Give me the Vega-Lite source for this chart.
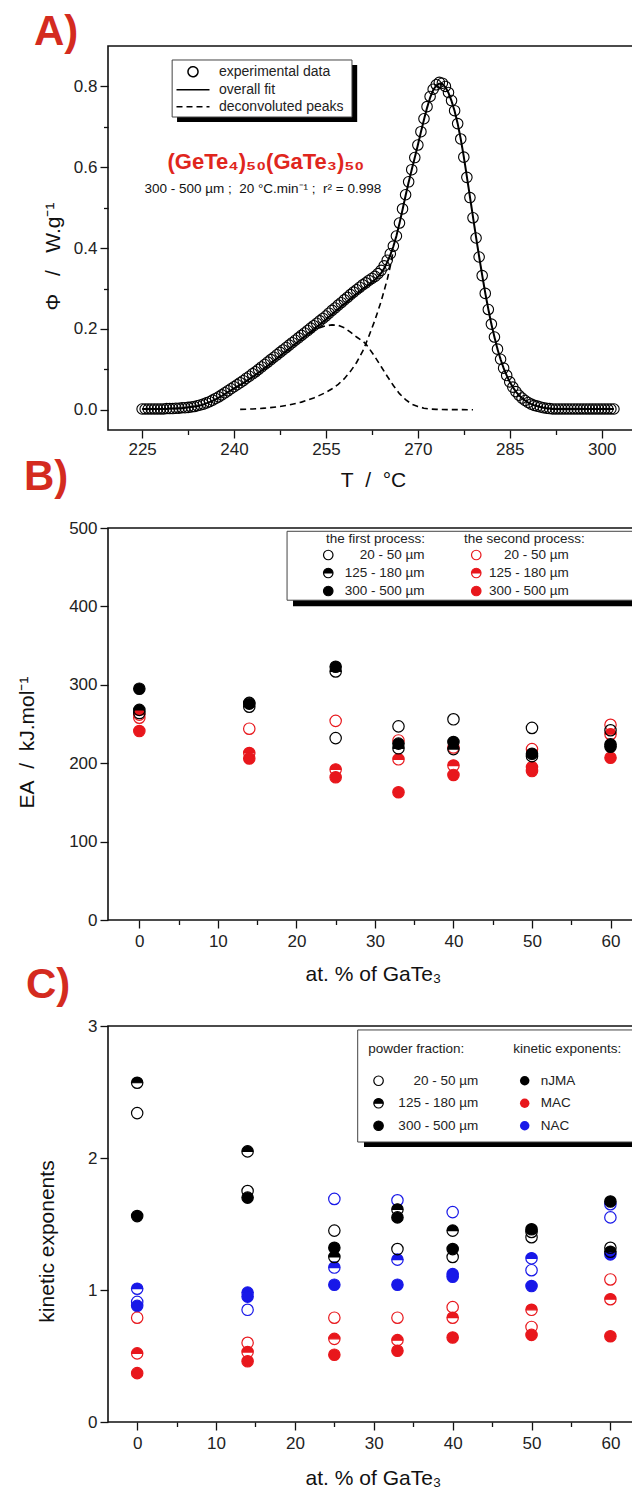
{
"$schema": "https://vega.github.io/schema/vega-lite/v6.json",
"background": "white",
"padding": {"left": 15, "top": 10, "right": 0, "bottom": 0},
"bounds": "flush",
"spacing": 98,
"resolve": {"scale": {"shape": "independent", "fill": "independent", "stroke": "independent", "strokeDash": "independent"}, "legend": {"shape": "independent", "fill": "independent", "stroke": "independent", "strokeDash": "independent"}},
"config": {
  "font": "Liberation Sans",
  "view": {"stroke": "#111", "strokeWidth": 1.6},
  "axis": {"domain": false, "grid": false, "tickColor": "#111", "tickWidth": 1.3, "labelFontSize": 17, "labelColor": "#222", "titleFontSize": 21, "titleFontWeight": "normal", "titleColor": "#111", "labelPadding": 3},
  "legend": {"labelFontSize": 13.5, "titleFontSize": 13.5, "titleFontWeight": "normal", "labelColor": "#222", "titleColor": "#222", "symbolSize": 90, "symbolStrokeWidth": 1.2, "padding": 0, "labelLimit": 300},
  "title": {"fontSize": 42, "fontWeight": "bold", "color": "#d42b1f", "anchor": "start", "frame": "group", "baseline": "alphabetic"}
},
"datasets": {
  "dsc": [
{"T":225,"exp":0.002,"fit":0.002},{"T":225.5,"exp":0.002,"fit":0.002},{"T":226,"exp":0.002,"fit":0.002},{"T":226.5,"exp":0.002,"fit":0.002},{"T":227,"exp":0.002,"fit":0.002},{"T":227.5,"exp":0.002,"fit":0.002},{"T":228,"exp":0.002,"fit":0.002},{"T":228.5,"exp":0.002,"fit":0.002},{"T":229,"exp":0.003,"fit":0.002},{"T":229.5,"exp":0.003,"fit":0.003},
{"T":230,"exp":0.003,"fit":0.003},{"T":230.5,"exp":0.004,"fit":0.003},{"T":231,"exp":0.004,"fit":0.004},{"T":231.5,"exp":0.005,"fit":0.004},{"T":232,"exp":0.005,"fit":0.005},{"T":232.5,"exp":0.006,"fit":0.006},{"T":233,"exp":0.007,"fit":0.007},{"T":233.5,"exp":0.008,"fit":0.008},{"T":234,"exp":0.010,"fit":0.009},{"T":234.5,"exp":0.012,"fit":0.011},
{"T":235,"exp":0.014,"fit":0.013},{"T":235.5,"exp":0.017,"fit":0.016},{"T":236,"exp":0.020,"fit":0.019},{"T":236.5,"exp":0.024,"fit":0.022},{"T":237,"exp":0.028,"fit":0.026},{"T":237.5,"exp":0.032,"fit":0.030},{"T":238,"exp":0.037,"fit":0.034},{"T":238.5,"exp":0.042,"fit":0.039},{"T":239,"exp":0.047,"fit":0.044},{"T":239.5,"exp":0.052,"fit":0.048},
{"T":240,"exp":0.057,"fit":0.053},{"T":240.5,"exp":0.062,"fit":0.057},{"T":241,"exp":0.067,"fit":0.062},{"T":241.5,"exp":0.072,"fit":0.066},{"T":242,"exp":0.078,"fit":0.071},{"T":242.5,"exp":0.083,"fit":0.076},{"T":243,"exp":0.089,"fit":0.081},{"T":243.5,"exp":0.094,"fit":0.086},{"T":244,"exp":0.100,"fit":0.092},{"T":244.5,"exp":0.106,"fit":0.097},
{"T":245,"exp":0.112,"fit":0.103},{"T":245.5,"exp":0.118,"fit":0.109},{"T":246,"exp":0.124,"fit":0.115},{"T":246.5,"exp":0.130,"fit":0.121},{"T":247,"exp":0.136,"fit":0.127},{"T":247.5,"exp":0.142,"fit":0.133},{"T":248,"exp":0.148,"fit":0.139},{"T":248.5,"exp":0.154,"fit":0.145},{"T":249,"exp":0.160,"fit":0.151},{"T":249.5,"exp":0.166,"fit":0.157},
{"T":250,"exp":0.172,"fit":0.163},{"T":250.5,"exp":0.178,"fit":0.169},{"T":251,"exp":0.184,"fit":0.175},{"T":251.5,"exp":0.190,"fit":0.181},{"T":252,"exp":0.196,"fit":0.187},{"T":252.5,"exp":0.202,"fit":0.193},{"T":253,"exp":0.208,"fit":0.199},{"T":253.5,"exp":0.214,"fit":0.205},{"T":254,"exp":0.220,"fit":0.211},{"T":254.5,"exp":0.226,"fit":0.217},
{"T":255,"exp":0.232,"fit":0.223},{"T":255.5,"exp":0.239,"fit":0.230},{"T":256,"exp":0.246,"fit":0.236},{"T":256.5,"exp":0.252,"fit":0.243},{"T":257,"exp":0.259,"fit":0.249},{"T":257.5,"exp":0.265,"fit":0.256},{"T":258,"exp":0.272,"fit":0.262},{"T":258.5,"exp":0.278,"fit":0.268},{"T":259,"exp":0.285,"fit":0.275},{"T":259.5,"exp":0.291,"fit":0.281},
{"T":260,"exp":0.297,"fit":0.287},{"T":260.5,"exp":0.303,"fit":0.293},{"T":261,"exp":0.309,"fit":0.299},{"T":261.5,"exp":0.314,"fit":0.304},{"T":262,"exp":0.320,"fit":0.310},{"T":262.5,"exp":0.325,"fit":0.316},{"T":263,"exp":0.330,"fit":0.322},{"T":263.5,"exp":0.337,"fit":0.329},{"T":264,"exp":0.345,"fit":0.338},{"T":264.5,"exp":0.356,"fit":0.350},
{"T":265,"exp":0.370,"fit":0.365},{"T":265.5,"exp":0.386,"fit":0.383},{"T":266,"exp":0.405,"fit":0.404},{"T":266.5,"exp":0.430,"fit":0.430},{"T":267,"exp":0.462,"fit":0.461},{"T":267.5,"exp":0.497,"fit":0.495},{"T":268,"exp":0.532,"fit":0.530},{"T":268.5,"exp":0.564,"fit":0.563},{"T":269,"exp":0.594,"fit":0.594},{"T":269.5,"exp":0.624,"fit":0.624},
{"T":270,"exp":0.655,"fit":0.655},{"T":270.5,"exp":0.688,"fit":0.687},{"T":271,"exp":0.720,"fit":0.718},{"T":271.5,"exp":0.750,"fit":0.747},{"T":272,"exp":0.775,"fit":0.772},{"T":272.5,"exp":0.793,"fit":0.791},{"T":273,"exp":0.804,"fit":0.802},{"T":273.5,"exp":0.810,"fit":0.807},{"T":274,"exp":0.808,"fit":0.806},{"T":274.5,"exp":0.800,"fit":0.798},
{"T":275,"exp":0.785,"fit":0.784},{"T":275.5,"exp":0.765,"fit":0.764},{"T":276,"exp":0.740,"fit":0.739},{"T":276.5,"exp":0.708,"fit":0.708},{"T":277,"exp":0.670,"fit":0.670},{"T":277.5,"exp":0.625,"fit":0.626},{"T":278,"exp":0.575,"fit":0.577},{"T":278.5,"exp":0.525,"fit":0.527},{"T":279,"exp":0.475,"fit":0.477},{"T":279.5,"exp":0.425,"fit":0.427},
{"T":280,"exp":0.378,"fit":0.379},{"T":280.5,"exp":0.332,"fit":0.333},{"T":281,"exp":0.288,"fit":0.289},{"T":281.5,"exp":0.248,"fit":0.249},{"T":282,"exp":0.212,"fit":0.212},{"T":282.5,"exp":0.180,"fit":0.180},{"T":283,"exp":0.150,"fit":0.150},{"T":283.5,"exp":0.125,"fit":0.125},{"T":284,"exp":0.103,"fit":0.103},{"T":284.5,"exp":0.085,"fit":0.085},
{"T":285,"exp":0.069,"fit":0.069},{"T":285.5,"exp":0.056,"fit":0.056},{"T":286,"exp":0.045,"fit":0.045},{"T":286.5,"exp":0.036,"fit":0.036},{"T":287,"exp":0.029,"fit":0.029},{"T":287.5,"exp":0.023,"fit":0.023},{"T":288,"exp":0.018,"fit":0.018},{"T":288.5,"exp":0.014,"fit":0.014},{"T":289,"exp":0.011,"fit":0.011},{"T":289.5,"exp":0.009,"fit":0.009},
{"T":290,"exp":0.007,"fit":0.007},{"T":290.5,"exp":0.005,"fit":0.005},{"T":291,"exp":0.004,"fit":0.004},{"T":291.5,"exp":0.003,"fit":0.003},{"T":292,"exp":0.002,"fit":0.002},{"T":292.5,"exp":0.002,"fit":0.002},{"T":293,"exp":0.002,"fit":0.002},{"T":293.5,"exp":0.002,"fit":0.002},{"T":294,"exp":0.002,"fit":0.002},{"T":294.5,"exp":0.002,"fit":0.002},
{"T":295,"exp":0.002,"fit":0.002},{"T":295.5,"exp":0.002,"fit":0.002},{"T":296,"exp":0.002,"fit":0.002},{"T":296.5,"exp":0.002,"fit":0.002},{"T":297,"exp":0.002,"fit":0.002},{"T":297.5,"exp":0.002,"fit":0.002},{"T":298,"exp":0.002,"fit":0.002},{"T":298.5,"exp":0.002,"fit":0.002},{"T":299,"exp":0.002,"fit":0.002},{"T":299.5,"exp":0.002,"fit":0.002},
{"T":300,"exp":0.002,"fit":0.002},{"T":300.5,"exp":0.002,"fit":0.002},{"T":301,"exp":0.002,"fit":0.002},{"T":301.5,"exp":0.002,"fit":0.002},{"T":302,"exp":0.002,"fit":0.002}
  ],
  "peaks": [
{"T":252.5,"peak":"p1","phi":0.190},{"T":253,"peak":"p1","phi":0.196},{"T":254,"peak":"p1","phi":0.203},{"T":255,"peak":"p1","phi":0.208},{"T":256,"peak":"p1","phi":0.210},{"T":257,"peak":"p1","phi":0.209},{"T":258,"peak":"p1","phi":0.203},{"T":259,"peak":"p1","phi":0.192},{"T":260,"peak":"p1","phi":0.180},{"T":261,"peak":"p1","phi":0.170},{"T":261.5,"peak":"p1","phi":0.163},{"T":262,"peak":"p1","phi":0.153},{"T":263,"peak":"p1","phi":0.131},{"T":264,"peak":"p1","phi":0.107},{"T":265,"peak":"p1","phi":0.083},{"T":266,"peak":"p1","phi":0.060},{"T":267,"peak":"p1","phi":0.040},{"T":268,"peak":"p1","phi":0.025},{"T":269,"peak":"p1","phi":0.014},{"T":270,"peak":"p1","phi":0.008},{"T":271,"peak":"p1","phi":0.004},{"T":272,"peak":"p1","phi":0.002},{"T":273,"peak":"p1","phi":0.001},{"T":275,"peak":"p1","phi":0.0005},{"T":277,"peak":"p1","phi":0.0003},{"T":279,"peak":"p1","phi":0.0002},
{"T":241,"peak":"p2","phi":0.001},{"T":243,"peak":"p2","phi":0.002},{"T":245,"peak":"p2","phi":0.004},{"T":247,"peak":"p2","phi":0.007},{"T":249,"peak":"p2","phi":0.012},{"T":251,"peak":"p2","phi":0.019},{"T":253,"peak":"p2","phi":0.029},{"T":255,"peak":"p2","phi":0.043},{"T":256,"peak":"p2","phi":0.052},{"T":257,"peak":"p2","phi":0.063},{"T":258,"peak":"p2","phi":0.077},{"T":259,"peak":"p2","phi":0.095},{"T":260,"peak":"p2","phi":0.117},{"T":261,"peak":"p2","phi":0.145},{"T":261.5,"peak":"p2","phi":0.163},{"T":262,"peak":"p2","phi":0.182},{"T":263,"peak":"p2","phi":0.222},{"T":264,"peak":"p2","phi":0.268},{"T":265,"peak":"p2","phi":0.322},{"T":265.5,"peak":"p2","phi":0.355},{"T":266,"peak":"p2","phi":0.395}
  ],
  "ea": [
{"GaTe3":0,"EA":258,"process":"second","fraction":"20 - 50 µm"},{"GaTe3":0,"EA":262,"process":"second","fraction":"125 - 180 µm"},{"GaTe3":0,"EA":241,"process":"second","fraction":"300 - 500 µm"},
{"GaTe3":14,"EA":244,"process":"second","fraction":"20 - 50 µm"},{"GaTe3":14,"EA":213,"process":"second","fraction":"125 - 180 µm"},{"GaTe3":14,"EA":206,"process":"second","fraction":"300 - 500 µm"},
{"GaTe3":25,"EA":254,"process":"second","fraction":"20 - 50 µm"},{"GaTe3":25,"EA":192,"process":"second","fraction":"125 - 180 µm"},{"GaTe3":25,"EA":182,"process":"second","fraction":"300 - 500 µm"},
{"GaTe3":33,"EA":229,"process":"second","fraction":"20 - 50 µm"},{"GaTe3":33,"EA":205,"process":"second","fraction":"125 - 180 µm"},{"GaTe3":33,"EA":163,"process":"second","fraction":"300 - 500 µm"},
{"GaTe3":40,"EA":220,"process":"second","fraction":"20 - 50 µm"},{"GaTe3":40,"EA":197,"process":"second","fraction":"125 - 180 µm"},{"GaTe3":40,"EA":185,"process":"second","fraction":"300 - 500 µm"},
{"GaTe3":50,"EA":218,"process":"second","fraction":"20 - 50 µm"},{"GaTe3":50,"EA":195,"process":"second","fraction":"125 - 180 µm"},{"GaTe3":50,"EA":190,"process":"second","fraction":"300 - 500 µm"},
{"GaTe3":60,"EA":249,"process":"second","fraction":"20 - 50 µm"},{"GaTe3":60,"EA":237,"process":"second","fraction":"125 - 180 µm"},{"GaTe3":60,"EA":207,"process":"second","fraction":"300 - 500 µm"},
{"GaTe3":0,"EA":264,"process":"first","fraction":"20 - 50 µm"},{"GaTe3":0,"EA":268,"process":"first","fraction":"125 - 180 µm"},{"GaTe3":0,"EA":295,"process":"first","fraction":"300 - 500 µm"},
{"GaTe3":14,"EA":277,"process":"first","fraction":"20 - 50 µm"},{"GaTe3":14,"EA":272,"process":"first","fraction":"125 - 180 µm"},{"GaTe3":14,"EA":276,"process":"first","fraction":"300 - 500 µm"},
{"GaTe3":25,"EA":232,"process":"first","fraction":"20 - 50 µm"},{"GaTe3":25,"EA":317,"process":"first","fraction":"125 - 180 µm"},{"GaTe3":25,"EA":323,"process":"first","fraction":"300 - 500 µm"},
{"GaTe3":33,"EA":247,"process":"first","fraction":"20 - 50 µm"},{"GaTe3":33,"EA":219,"process":"first","fraction":"125 - 180 µm"},{"GaTe3":33,"EA":225,"process":"first","fraction":"300 - 500 µm"},
{"GaTe3":40,"EA":256,"process":"first","fraction":"20 - 50 µm"},{"GaTe3":40,"EA":218,"process":"first","fraction":"125 - 180 µm"},{"GaTe3":40,"EA":227,"process":"first","fraction":"300 - 500 µm"},
{"GaTe3":50,"EA":245,"process":"first","fraction":"20 - 50 µm"},{"GaTe3":50,"EA":209,"process":"first","fraction":"125 - 180 µm"},{"GaTe3":50,"EA":212,"process":"first","fraction":"300 - 500 µm"},
{"GaTe3":60,"EA":242,"process":"first","fraction":"20 - 50 µm"},{"GaTe3":60,"EA":224,"process":"first","fraction":"125 - 180 µm"},{"GaTe3":60,"EA":221,"process":"first","fraction":"300 - 500 µm"}
  ],
  "kin": [
{"GaTe3":0,"k":0.91,"exponent":"NAC","fraction":"20 - 50 µm"},{"GaTe3":0,"k":1.01,"exponent":"NAC","fraction":"125 - 180 µm"},{"GaTe3":0,"k":0.88,"exponent":"NAC","fraction":"300 - 500 µm"},
{"GaTe3":14,"k":0.85,"exponent":"NAC","fraction":"20 - 50 µm"},{"GaTe3":14,"k":0.98,"exponent":"NAC","fraction":"125 - 180 µm"},{"GaTe3":14,"k":0.95,"exponent":"NAC","fraction":"300 - 500 µm"},
{"GaTe3":25,"k":1.69,"exponent":"NAC","fraction":"20 - 50 µm"},{"GaTe3":25,"k":1.17,"exponent":"NAC","fraction":"125 - 180 µm"},{"GaTe3":25,"k":1.04,"exponent":"NAC","fraction":"300 - 500 µm"},
{"GaTe3":33,"k":1.68,"exponent":"NAC","fraction":"20 - 50 µm"},{"GaTe3":33,"k":1.23,"exponent":"NAC","fraction":"125 - 180 µm"},{"GaTe3":33,"k":1.04,"exponent":"NAC","fraction":"300 - 500 µm"},
{"GaTe3":40,"k":1.59,"exponent":"NAC","fraction":"20 - 50 µm"},{"GaTe3":40,"k":1.12,"exponent":"NAC","fraction":"125 - 180 µm"},{"GaTe3":40,"k":1.10,"exponent":"NAC","fraction":"300 - 500 µm"},
{"GaTe3":50,"k":1.15,"exponent":"NAC","fraction":"20 - 50 µm"},{"GaTe3":50,"k":1.24,"exponent":"NAC","fraction":"125 - 180 µm"},{"GaTe3":50,"k":1.03,"exponent":"NAC","fraction":"300 - 500 µm"},
{"GaTe3":60,"k":1.55,"exponent":"NAC","fraction":"20 - 50 µm"},{"GaTe3":60,"k":1.65,"exponent":"NAC","fraction":"125 - 180 µm"},{"GaTe3":60,"k":1.27,"exponent":"NAC","fraction":"300 - 500 µm"},
{"GaTe3":0,"k":0.79,"exponent":"MAC","fraction":"20 - 50 µm"},{"GaTe3":0,"k":0.52,"exponent":"MAC","fraction":"125 - 180 µm"},{"GaTe3":0,"k":0.37,"exponent":"MAC","fraction":"300 - 500 µm"},
{"GaTe3":14,"k":0.60,"exponent":"MAC","fraction":"20 - 50 µm"},{"GaTe3":14,"k":0.53,"exponent":"MAC","fraction":"125 - 180 µm"},{"GaTe3":14,"k":0.46,"exponent":"MAC","fraction":"300 - 500 µm"},
{"GaTe3":25,"k":0.79,"exponent":"MAC","fraction":"20 - 50 µm"},{"GaTe3":25,"k":0.63,"exponent":"MAC","fraction":"125 - 180 µm"},{"GaTe3":25,"k":0.51,"exponent":"MAC","fraction":"300 - 500 µm"},
{"GaTe3":33,"k":0.79,"exponent":"MAC","fraction":"20 - 50 µm"},{"GaTe3":33,"k":0.62,"exponent":"MAC","fraction":"125 - 180 µm"},{"GaTe3":33,"k":0.54,"exponent":"MAC","fraction":"300 - 500 µm"},
{"GaTe3":40,"k":0.87,"exponent":"MAC","fraction":"20 - 50 µm"},{"GaTe3":40,"k":0.79,"exponent":"MAC","fraction":"125 - 180 µm"},{"GaTe3":40,"k":0.64,"exponent":"MAC","fraction":"300 - 500 µm"},
{"GaTe3":50,"k":0.72,"exponent":"MAC","fraction":"20 - 50 µm"},{"GaTe3":50,"k":0.85,"exponent":"MAC","fraction":"125 - 180 µm"},{"GaTe3":50,"k":0.66,"exponent":"MAC","fraction":"300 - 500 µm"},
{"GaTe3":60,"k":1.08,"exponent":"MAC","fraction":"20 - 50 µm"},{"GaTe3":60,"k":0.93,"exponent":"MAC","fraction":"125 - 180 µm"},{"GaTe3":60,"k":0.65,"exponent":"MAC","fraction":"300 - 500 µm"},
{"GaTe3":0,"k":2.34,"exponent":"nJMA","fraction":"20 - 50 µm"},{"GaTe3":0,"k":2.57,"exponent":"nJMA","fraction":"125 - 180 µm"},{"GaTe3":0,"k":1.56,"exponent":"nJMA","fraction":"300 - 500 µm"},
{"GaTe3":14,"k":1.75,"exponent":"nJMA","fraction":"20 - 50 µm"},{"GaTe3":14,"k":2.05,"exponent":"nJMA","fraction":"125 - 180 µm"},{"GaTe3":14,"k":1.70,"exponent":"nJMA","fraction":"300 - 500 µm"},
{"GaTe3":25,"k":1.45,"exponent":"nJMA","fraction":"20 - 50 µm"},{"GaTe3":25,"k":1.25,"exponent":"nJMA","fraction":"125 - 180 µm"},{"GaTe3":25,"k":1.32,"exponent":"nJMA","fraction":"300 - 500 µm"},
{"GaTe3":33,"k":1.31,"exponent":"nJMA","fraction":"20 - 50 µm"},{"GaTe3":33,"k":1.61,"exponent":"nJMA","fraction":"125 - 180 µm"},{"GaTe3":33,"k":1.55,"exponent":"nJMA","fraction":"300 - 500 µm"},
{"GaTe3":40,"k":1.25,"exponent":"nJMA","fraction":"20 - 50 µm"},{"GaTe3":40,"k":1.45,"exponent":"nJMA","fraction":"125 - 180 µm"},{"GaTe3":40,"k":1.31,"exponent":"nJMA","fraction":"300 - 500 µm"},
{"GaTe3":50,"k":1.40,"exponent":"nJMA","fraction":"20 - 50 µm"},{"GaTe3":50,"k":1.44,"exponent":"nJMA","fraction":"125 - 180 µm"},{"GaTe3":50,"k":1.46,"exponent":"nJMA","fraction":"300 - 500 µm"},
{"GaTe3":60,"k":1.32,"exponent":"nJMA","fraction":"20 - 50 µm"},{"GaTe3":60,"k":1.29,"exponent":"nJMA","fraction":"125 - 180 µm"},{"GaTe3":60,"k":1.67,"exponent":"nJMA","fraction":"300 - 500 µm"}
  ]
},
"vconcat": [
{
  "width": 530, "height": 384,
  "title": {"text": "A)", "dx": -74, "offset": -8},
  "layer": [
    {"data": {"values": [{}]}, "mark": {"type": "rect", "fill": "black"},
     "encoding": {"x": {"datum": 230.7, "scale": {"domain": [219.43, 305.93], "nice": false, "zero": false}}, "x2": {"datum": 260.1}, "y": {"datum": 0.853, "scale": {"domain": [-0.05, 0.9], "nice": false, "zero": false}}, "y2": {"datum": 0.712}}},
    {"data": {"values": [{}]}, "mark": {"type": "rect", "fill": "white", "stroke": "#444", "strokeWidth": 1},
     "encoding": {"x": {"datum": 229.9, "scale": {"domain": [219.43, 305.93], "nice": false, "zero": false}}, "x2": {"datum": 259.25}, "y": {"datum": 0.8654, "scale": {"domain": [-0.05, 0.9], "nice": false, "zero": false}}, "y2": {"datum": 0.7243}}},
    {"data": {"name": "dsc"}, "mark": {"type": "line", "stroke": "black", "strokeWidth": 2},
     "encoding": {
       "x": {"field": "T", "type": "quantitative", "scale": {"domain": [219.43, 305.93], "nice": false, "zero": false},
             "axis": {"title": "T\u00a0\u00a0/\u00a0\u00a0°C", "values": [225,232.5,240,247.5,255,262.5,270,277.5,285,292.5,300], "format": "d", "labelExpr": "datum.value % 15 === 0 ? datum.label : ''", "tickSize": {"condition": {"test": "datum.value % 15 === 0", "value": 8}, "value": 4.5}, "labelPadding": 3, "titlePadding": 12}},
       "y": {"field": "fit", "type": "quantitative", "scale": {"domain": [-0.05, 0.9], "nice": false, "zero": false},
             "axis": {"title": "Φ\u00a0\u00a0\u00a0/\u00a0\u00a0\u00a0W.g⁻¹", "values": [0,0.1,0.2,0.3,0.4,0.5,0.6,0.7,0.8], "format": ".1f", "labelExpr": "round(datum.value*10) % 2 === 0 ? datum.label : ''", "tickSize": {"condition": {"test": "round(datum.value*10) % 2 === 0", "value": 8}, "value": 4.5}, "titlePadding": 10, "titleY": 210}},
       "strokeDash": {"datum": "overall fit", "type": "nominal", "scale": {"domain": ["experimental data", "overall fit", "deconvoluted peaks"], "range": [[1, 0], [1, 0], [6, 4]]},
         "legend": {"orient": "none", "legendX": 78, "legendY": 18.7, "title": null, "labelFontSize": 14, "symbolSize": 100, "rowPadding": 3, "labelOffset": 19, "symbolStrokeWidth": 1.5}}
     }},
    {"data": {"name": "peaks"}, "mark": {"type": "line", "stroke": "black", "strokeWidth": 1.6},
     "encoding": {"x": {"field": "T", "type": "quantitative", "scale": {"domain": [219.43, 305.93], "nice": false, "zero": false}}, "y": {"field": "phi", "type": "quantitative", "scale": {"domain": [-0.05, 0.9], "nice": false, "zero": false}}, "detail": {"field": "peak"},
       "strokeDash": {"datum": "deconvoluted peaks", "type": "nominal", "scale": {"domain": ["experimental data", "overall fit", "deconvoluted peaks"], "range": [[1, 0], [1, 0], [6, 4]]},
         "legend": {"orient": "none", "legendX": 78, "legendY": 18.7, "title": null, "labelFontSize": 14, "symbolSize": 100, "rowPadding": 3, "labelOffset": 19, "symbolStrokeWidth": 1.5}}}},
    {"data": {"name": "dsc"}, "mark": {"type": "point", "filled": false, "color": "black", "strokeWidth": 1.1, "size": 110, "opacity": 1},
     "encoding": {"x": {"field": "T", "type": "quantitative", "scale": {"domain": [219.43, 305.93], "nice": false, "zero": false}}, "y": {"field": "exp", "type": "quantitative", "scale": {"domain": [-0.05, 0.9], "nice": false, "zero": false}},
       "shape": {"datum": "experimental data", "type": "nominal", "scale": {"domain": ["experimental data", "overall fit", "deconvoluted peaks"], "range": ["circle", "M-3.3,0L3.3,0", "M-3.3,0L3.3,0"]},
         "legend": {"orient": "none", "legendX": 78, "legendY": 18.7, "title": null, "labelFontSize": 14, "symbolSize": 100, "rowPadding": 3, "labelOffset": 19, "symbolStrokeWidth": 1.5}}}},
    {"data": {"values": [{}]}, "mark": {"type": "text", "text": "(GeTe₄)₅₀(GaTe₃)₅₀", "fontSize": 22, "fontWeight": "bold", "color": "#e0261d"},
     "encoding": {"x": {"datum": 245.2, "scale": {"domain": [219.43, 305.93], "nice": false, "zero": false}}, "y": {"datum": 0.613, "scale": {"domain": [-0.05, 0.9], "nice": false, "zero": false}}}},
    {"data": {"values": [{}]}, "mark": {"type": "text", "text": "300 - 500 µm ;\u00a0 20 °C.min⁻¹ ;\u00a0 r² = 0.998", "fontSize": 13.5, "color": "#111"},
     "encoding": {"x": {"datum": 244.7, "scale": {"domain": [219.43, 305.93], "nice": false, "zero": false}}, "y": {"datum": 0.545, "scale": {"domain": [-0.05, 0.9], "nice": false, "zero": false}}}}
  ]
},
{
  "bounds": "flush",
  "spacing": 106,
  "resolve": {"scale": {"shape": "independent", "fill": "independent", "stroke": "independent"}, "legend": {"shape": "independent", "fill": "independent", "stroke": "independent"}},
  "vconcat": [
  {
    "width": 530, "height": 392,
    "title": {"text": "B)", "dx": -84, "offset": 20},
    "layer": [
      {"data": {"values": [{}]}, "mark": {"type": "rect", "fill": "black"},
       "encoding": {"x": {"datum": 19.57, "scale": {"domain": [-3.99, 63.5], "nice": false, "zero": false}}, "x2": {"datum": 67}, "y": {"datum": 488.6, "scale": {"domain": [0, 500], "nice": false}}, "y2": {"datum": 400.2}}},
      {"data": {"values": [{}]}, "mark": {"type": "rect", "fill": "white", "stroke": "#444", "strokeWidth": 1},
       "encoding": {"x": {"datum": 18.81, "scale": {"domain": [-3.99, 63.5], "nice": false, "zero": false}}, "x2": {"datum": 66}, "y": {"datum": 495.8, "scale": {"domain": [0, 500], "nice": false}}, "y2": {"datum": 407.9}}},
      {"data": {"name": "ea"}, "transform": [{"filter": "datum.process === 'second'"}],
       "mark": {"type": "point", "filled": true, "fill": "#e8171c", "stroke": "#e8171c", "strokeWidth": 1.2, "size": 130, "opacity": 1},
       "encoding": {
         "x": {"field": "GaTe3", "type": "quantitative", "scale": {"domain": [-3.99, 63.5], "nice": false, "zero": false},
               "axis": {"title": "at. % of GaTe₃", "values": [0,5,10,15,20,25,30,35,40,45,50,55,60], "labelExpr": "datum.value % 10 === 0 ? datum.label : ''", "tickSize": {"condition": {"test": "datum.value % 10 === 0", "value": 8}, "value": 4.5}, "labelPadding": 5, "titlePadding": 14}},
         "y": {"field": "EA", "type": "quantitative", "scale": {"domain": [0, 500], "nice": false},
               "axis": {"title": "EA\u00a0\u00a0/\u00a0\u00a0kJ.mol⁻¹", "values": [0,50,100,150,200,250,300,350,400,450,500], "labelExpr": "datum.value % 100 === 0 ? datum.label : ''", "tickSize": {"condition": {"test": "datum.value % 100 === 0", "value": 8}, "value": 4.5}, "titlePadding": 31, "titleY": 214}},
         "shape": {"field": "fraction", "type": "nominal", "scale": {"domain": ["20 - 50 µm", "125 - 180 µm", "300 - 500 µm"], "range": ["M-1,0A1,1,0,1,1,1,0A1,1,0,1,1,-1,0ZM-1,0A1,1,0,1,0,1,0A1,1,0,1,0,-1,0Z", "M-1,0A1,1,0,1,1,1,0A1,1,0,1,1,-1,0ZM-1,0A1,1,0,0,0,1,0Z", "circle"]},
           "legend": {"orient": "none", "legendX": 356, "legendY": 4, "title": "the second process:", "titlePadding": 2.75, "rowPadding": 3, "symbolOffset": 5.5, "labelAlign": "right", "labelOffset": 85.8}}
       }},
      {"data": {"name": "ea"}, "transform": [{"filter": "datum.process === 'first'"}],
       "mark": {"type": "point", "filled": true, "fill": "black", "stroke": "black", "strokeWidth": 1.2, "size": 130, "opacity": 1},
       "encoding": {
         "x": {"field": "GaTe3", "type": "quantitative", "scale": {"domain": [-3.99, 63.5], "nice": false, "zero": false}},
         "y": {"field": "EA", "type": "quantitative", "scale": {"domain": [0, 500], "nice": false}},
         "shape": {"field": "fraction", "type": "nominal", "scale": {"domain": ["20 - 50 µm", "125 - 180 µm", "300 - 500 µm"], "range": ["M-1,0A1,1,0,1,1,1,0A1,1,0,1,1,-1,0ZM-1,0A1,1,0,1,0,1,0A1,1,0,1,0,-1,0Z", "M-1,0A1,1,0,1,1,1,0A1,1,0,1,1,-1,0ZM-1,0A1,1,0,0,0,1,0Z", "circle"]},
           "legend": {"orient": "none", "legendX": 218, "legendY": 4, "title": "the first process:", "titlePadding": 2.75, "rowPadding": 3, "symbolOffset": -4.5, "labelAlign": "right", "labelOffset": 89.5}}
       }}
    ],
    "resolve": {"scale": {"shape": "independent"}}
  },
  {
    "width": 530, "height": 396,
    "title": {"text": "C)", "dx": -82, "offset": 10},
    "layer": [
      {"data": {"values": [{}]}, "mark": {"type": "rect", "fill": "black"},
       "encoding": {"x": {"datum": 28.76, "scale": {"domain": [-3.7, 63.5], "nice": false, "zero": false}}, "x2": {"datum": 67}, "y": {"datum": 2.932, "scale": {"domain": [0, 3], "nice": false}}, "y2": {"datum": 2.083}}},
      {"data": {"values": [{}]}, "mark": {"type": "rect", "fill": "white", "stroke": "#444", "strokeWidth": 1},
       "encoding": {"x": {"datum": 27.96, "scale": {"domain": [-3.7, 63.5], "nice": false, "zero": false}}, "x2": {"datum": 66}, "y": {"datum": 2.970, "scale": {"domain": [0, 3], "nice": false}}, "y2": {"datum": 2.121}}},
      {"data": {"name": "kin"},
       "mark": {"type": "point", "filled": true, "strokeWidth": 1.2, "size": 130, "opacity": 1},
       "encoding": {
         "x": {"field": "GaTe3", "type": "quantitative", "scale": {"domain": [-3.7, 63.5], "nice": false, "zero": false},
               "axis": {"title": "at. % of GaTe₃", "values": [0,5,10,15,20,25,30,35,40,45,50,55,60], "labelExpr": "datum.value % 10 === 0 ? datum.label : ''", "tickSize": {"condition": {"test": "datum.value % 10 === 0", "value": 8}, "value": 4.5}, "labelPadding": 5, "titlePadding": 16}},
         "y": {"field": "k", "type": "quantitative", "scale": {"domain": [0, 3], "nice": false},
               "axis": {"title": "kinetic exponents", "values": [0,0.5,1,1.5,2,2.5,3], "format": "d", "labelExpr": "datum.value % 1 === 0 ? datum.label : ''", "tickSize": {"condition": {"test": "datum.value % 1 === 0", "value": 8}, "value": 4.5}, "titlePadding": 30, "titleY": 215}},
         "fill": {"field": "exponent", "type": "nominal", "scale": {"domain": ["nJMA", "MAC", "NAC"], "range": ["black", "#e8171c", "#1818e8"]},
           "legend": {"orient": "none", "legendX": 405.3, "legendY": 15.5, "title": "kinetic exponents:", "titlePadding": 19, "rowPadding": 7.5, "symbolOffset": 4.65, "labelOffset": 9.2, "symbolStrokeWidth": 0}},
         "stroke": {"field": "exponent", "type": "nominal", "scale": {"domain": ["nJMA", "MAC", "NAC"], "range": ["black", "#e8171c", "#1818e8"]}, "legend": null},
         "shape": {"field": "fraction", "type": "nominal", "scale": {"domain": ["20 - 50 µm", "125 - 180 µm", "300 - 500 µm"], "range": ["M-1,0A1,1,0,1,1,1,0A1,1,0,1,1,-1,0ZM-1,0A1,1,0,1,0,1,0A1,1,0,1,0,-1,0Z", "M-1,0A1,1,0,1,1,1,0A1,1,0,1,1,-1,0ZM-1,0A1,1,0,0,0,1,0Z", "circle"]},
           "legend": {"orient": "none", "legendX": 260.3, "legendY": 15.5, "title": "powder fraction:", "titlePadding": 19, "rowPadding": 7.5, "symbolOffset": 3.5, "labelAlign": "right", "labelOffset": 92.9, "symbolFillColor": "black", "symbolStrokeColor": "black"}}
       }}
    ]
  }
  ]
}
]
}
